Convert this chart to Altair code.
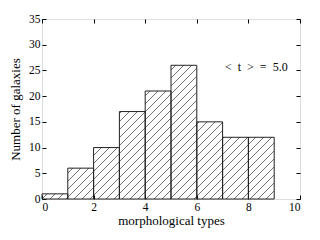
import altair as alt
import pandas as pd

# histogram data
bin_start = [0, 1, 2, 3, 4, 5, 6, 7, 8]
bin_end = [1, 2, 3, 4, 5, 6, 7, 8, 9]
counts = [1, 6, 10, 17, 21, 26, 15, 12, 12]
x_ticks = [0, 2, 4, 6, 8, 10]
y_ticks = [0, 5, 10, 15, 20, 25, 30, 35]
annotation = "<\u2002t\u2002>\u2002=\u20025.0"

W, H = 258, 180
XMAX, YMAX = 10, 35
FONT = "Liberation Serif, Times New Roman, serif"

bars = pd.DataFrame({"x0": bin_start, "x1": bin_end, "n": counts})

# hatch segments ("/") clipped to each bar, in a continuous pixel pattern
px_x = W / XMAX
px_y = H / YMAX
spacing = 8.0
segs = []
for x0, x1, n in zip(bin_start, bin_end, counts):
    X0, X1, Hh = x0 * px_x, x1 * px_x, n * px_y
    k = int(-Hh // spacing) - 1
    while k * spacing <= X1:
        d = k * spacing
        lo = max(0.0, X0 - d)
        hi = min(Hh, X1 - d)
        if hi - lo > 0.3:
            segs.append({"xa": (lo + d) / px_x, "ya": lo / px_y,
                         "xb": (hi + d) / px_x, "yb": hi / px_y})
        k += 1
hatch = pd.DataFrame(segs)

xs = alt.Scale(domain=[0, XMAX], nice=False, zero=False)
ys = alt.Scale(domain=[0, YMAX], nice=False, zero=False)

ax_common = dict(domain=False, grid=False, tickSize=4, offset=-4,
                 tickColor="black", tickWidth=1, labelColor="black",
                 labelFont=FONT, labelFontSize=11.5, titleFont=FONT,
                 titleFontSize=13, titleFontWeight="normal", titleColor="black")

x_bottom = alt.Axis(values=x_ticks, title="morphological types", labelPadding=2,
                    titlePadding=2, **ax_common)
y_left = alt.Axis(values=y_ticks, title="Number of galaxies", labelPadding=2,
                  titlePadding=6, **ax_common)
x_top = alt.Axis(values=x_ticks, orient="top", labels=False, title=None, **ax_common)
y_right = alt.Axis(values=y_ticks, orient="right", labels=False, title=None, **ax_common)

hatch_layer = alt.Chart(hatch).mark_rule(color="#333333", strokeWidth=0.7).encode(
    x=alt.X("xa:Q", scale=xs, axis=x_top),
    y=alt.Y("ya:Q", scale=ys, axis=y_right),
    x2="xb:Q",
    y2="yb:Q",
)

bar_layer = alt.Chart(bars).mark_rect(fill="white", fillOpacity=0, stroke="#222222",
                                      strokeWidth=1).encode(
    x=alt.X("x0:Q", scale=xs, axis=x_bottom),
    x2="x1:Q",
    y=alt.Y("n:Q", scale=ys, axis=y_left),
    y2=alt.datum(0),
)

text_layer = alt.Chart(pd.DataFrame({"t": [annotation]})).mark_text(
    font=FONT, fontSize=12, align="left", baseline="middle", color="black"
).encode(x=alt.value(183), y=alt.value(48), text="t:N")

chart = alt.layer(hatch_layer, bar_layer, text_layer).resolve_axis(
    x="independent", y="independent"
).properties(
    width=W, height=H,
    autosize=alt.AutoSizeParams(type="none"),
    padding={"left": 34, "top": 11, "right": 10, "bottom": 30},
).configure_view(stroke="black", strokeWidth=1).configure(background="white")

chart.save("out.html", embed_options={"renderer": "svg", "actions": False})
